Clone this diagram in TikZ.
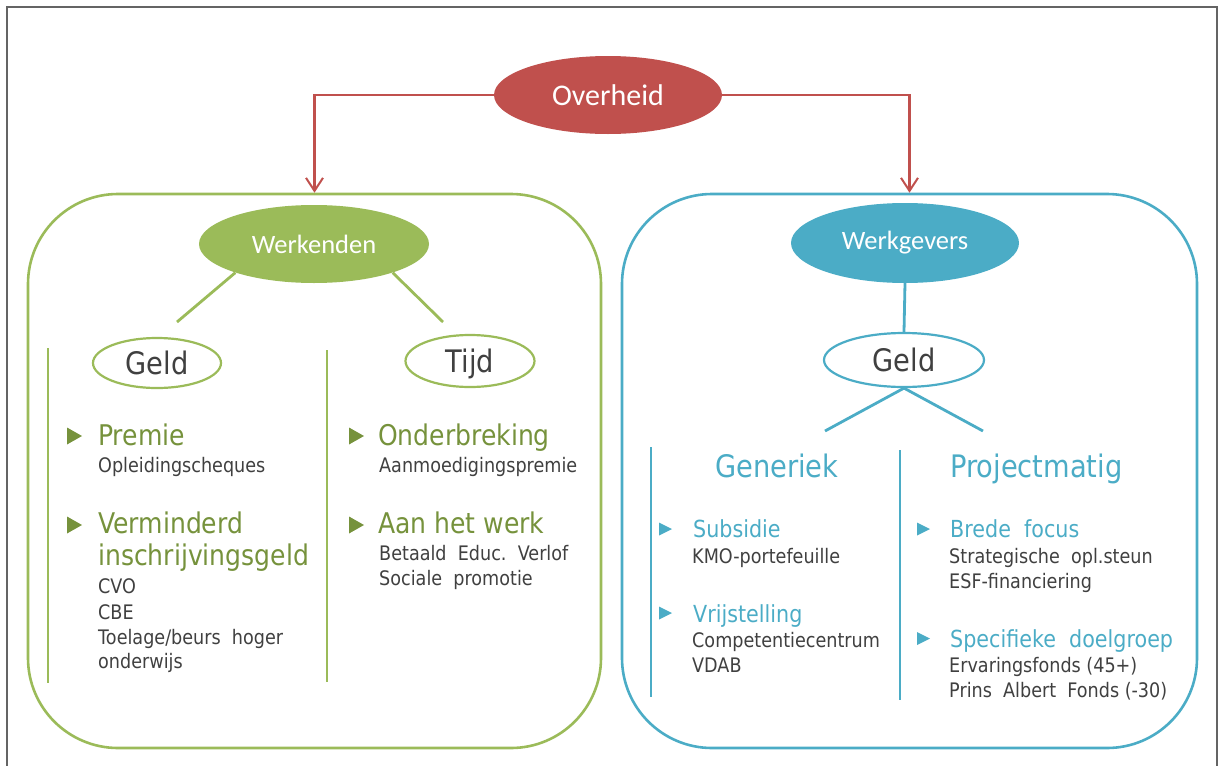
\documentclass[tikz,border=0pt]{standalone}
\usepackage{fontspec}
\setmainfont[FakeStretch=0.88]{DejaVu Sans}
\newfontfamily\labelfont{Carlito}
\usetikzlibrary{shapes.geometric,arrows.meta}
\definecolor{govred}{HTML}{C0504D}
\definecolor{wgreen}{HTML}{9BBB59}
\definecolor{wgreendk}{HTML}{76923C}
\definecolor{wblue}{HTML}{4BACC6}
\definecolor{txtgray}{HTML}{404040}
\definecolor{framegray}{HTML}{646464}
\begin{document}
\begin{tikzpicture}[x=1pt,y=-1pt,
  oval/.style={ellipse, inner sep=0pt},
  panel/.style={draw, line width=2.6pt, rounded corners=90pt, inner sep=0pt},
  solidoval/.style={oval, text=white, font=\labelfont\fontsize{26.5}{30}\selectfont},
  openoval/.style={oval, draw, fill=white, line width=2.2pt, text=txtgray,
                   text height=22.6pt, text depth=0pt, font=\fontsize{31}{36}\selectfont},
  govarrow/.style={draw=govred, line width=2.2pt, -{Straight Barb[length=13pt,width=17pt,line width=2pt]}},
  gline/.style={draw=wgreen, line width=2.8pt},
  bline/.style={draw=wblue, line width=2.8pt},
  item/.style={anchor=base west, inner sep=0pt, text=txtgray, font=\fontsize{20}{24}\selectfont},
  ghead/.style={anchor=base west, inner sep=0pt, text=wgreendk, font=\fontsize{28.5}{32}\selectfont},
  bhead/.style={anchor=base west, inner sep=0pt, text=wblue, font=\fontsize{23.5}{28}\selectfont},
  btitle/.style={anchor=base west, inner sep=0pt, text=wblue, font=\fontsize{31}{36}\selectfont},
  gtri/.pic={\fill[wgreendk] (0,-8.5) -- (15,0) -- (0,8.5) -- cycle;},
  btri/.pic={\fill[wblue] (0,-6.5) -- (13,0) -- (0,6.5) -- cycle;}
]
\useasboundingbox (0,0) rectangle (1219,766);

% outer frame (open at the bottom)
\draw[framegray, line width=2pt] (6.7,766) -- (6.7,6.7) -- (1216.5,6.7) -- (1216.5,766);

% the two panels
\node[panel, draw=wgreen, minimum width=573pt, minimum height=554pt] (gbox) at (314.5,471) {};
\node[panel, draw=wblue, minimum width=575pt, minimum height=554pt] (bbox) at (909.5,471) {};

% top node and arrows into the panels
\node[oval, fill=govred, minimum width=228pt, minimum height=78pt, text=white,
      font=\labelfont\fontsize{30}{34}\selectfont] (ov) at (608,95) {Overheid};
\draw[govarrow] (ov.west) -| (gbox.north);
\draw[govarrow] (ov.east) -| (bbox.north);

% ---------------- Werkenden ----------------
\node[solidoval, fill=wgreen, minimum width=230pt, minimum height=78pt] (wk) at (314,244) {Werkenden};
\node[openoval, draw=wgreen, minimum width=128pt, minimum height=50pt] (geldL) at (157,363) {Geld};
\node[openoval, draw=wgreen, minimum width=129pt, minimum height=52pt] (tijd) at (470,361) {Tijd};
\coordinate (wkL) at (177,322);
\coordinate (wkR) at (443,322);
\draw[gline] (wk.200) -- (wkL);
\draw[gline] (wk.-20) -- (wkR);

\draw[gline] (48,348) -- (48,683);
\draw[gline] (327,350) -- (327,682);

\pic at (67,436) {gtri};
\node[ghead] (premie) at (98,445) {Premie};
\node[item] (oplch) at (98,472) {Opleidingscheques};
\pic at (67,525) {gtri};
\node[ghead] (verm) at (98,533) {Verminderd};
\node[ghead] (inschr) at (98,565) {inschrijvingsgeld};
\node[item] (cvo) at (98,593) {CVO};
\node[item] (cbe) at (98,619) {CBE};
\node[item] (toel) at (98,644) {Toelage/beurs\ \ hoger};
\node[item] (onderw) at (98,668) {onderwijs};

\pic at (349,436) {gtri};
\node[ghead] (onderbr) at (378,445) {Onderbreking};
\node[item] (aanm) at (379,472) {Aanmoedigingspremie};
\pic at (349,525) {gtri};
\node[ghead] (aanwerk) at (378,533) {Aan het werk};
\node[item] (betaald) at (379,560) {Betaald\ \ Educ.\ \ Verlof};
\node[item] (socprom) at (379,585) {Sociale\ \ promotie};

% ---------------- Werkgevers ----------------
\node[solidoval, fill=wblue, minimum width=228pt, minimum height=80pt] (wg) at (905,243) {Werkgevers};
\node[openoval, draw=wblue, minimum width=160pt, minimum height=54pt] (geldR) at (904,360) {Geld};
\draw[bline] (wg.south) -- (geldR.north);
\coordinate (genA) at (825,431);
\coordinate (proA) at (983,431);
\draw[bline] (geldR.south) -- (genA);
\draw[bline] (geldR.south) -- (proA);

\draw[bline] (651,447) -- (651,697);
\draw[bline] (900,450) -- (900,700);

\node[btitle] (gener) at (715,477) {Generiek};
\node[btitle] (projm) at (950,477) {Projectmatig};

\pic at (659,529) {btri};
\node[bhead] (subs) at (693,537) {Subsidie};
\node[item] (kmo) at (692,563) {KMO-portefeuille};
\pic at (659,613) {btri};
\node[bhead] (vrijst) at (693,622) {Vrijstelling};
\node[item] (compc) at (692,647) {Competentiecentrum};
\node[item] (vdab) at (692,672) {VDAB};

\pic at (917,529) {btri};
\node[bhead] (brede) at (950,537) {Brede\ \ focus};
\node[item] (strat) at (949,563) {Strategische\ \ opl.steun};
\node[item] (esf) at (949,588) {ESF-financiering};
\pic at (917,638.5) {btri};
\node[bhead] (specd) at (950,647) {Specifieke\ \ doelgroep};
\node[item] (ervf) at (949,672) {Ervaringsfonds\ (45+)};
\node[item] (prins) at (949,697) {Prins\ \ Albert\ \ Fonds\ (-30)};
\end{tikzpicture}
\end{document}
